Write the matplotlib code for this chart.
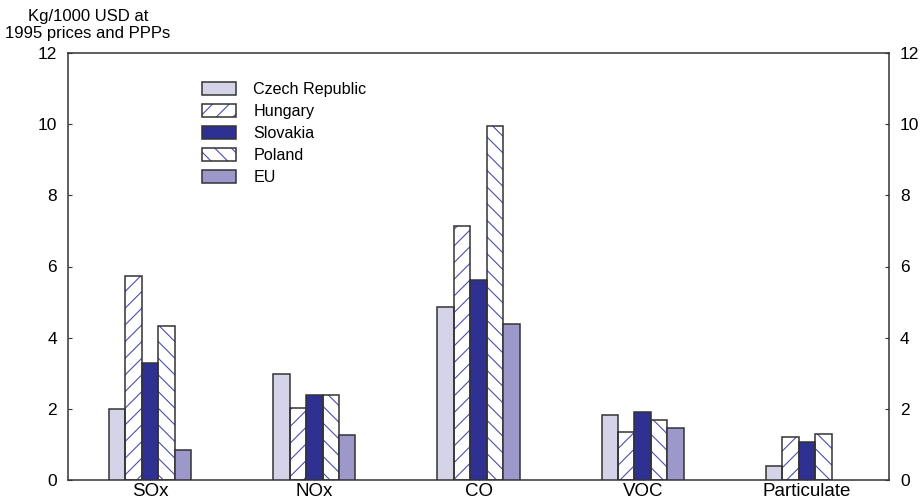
import numpy as np
import matplotlib.pyplot as plt
from matplotlib.patches import Patch

plt.rcParams['font.family'] = ['Liberation Sans', 'DejaVu Sans']
plt.rcParams['hatch.linewidth'] = 0.8

pollutants = ["SOx", "NOx", "CO", "VOC", "Particulate"]
countries = ["Czech Republic", "Hungary", "Slovakia", "Poland", "EU"]

czech = [2.00, 2.99, 4.87, 1.83, 0.39]
hungary = [5.72, 2.03, 7.15, 1.35, 1.21]
slovakia = [3.30, 2.39, 5.63, 1.92, 1.07]
poland = [4.34, 2.39, 9.94, 1.69, 1.30]
eu = [0.85, 1.27, 4.39, 1.46, np.nan]

series = [czech, hungary, slovakia, poland, eu]
fills = ["#d5d3e8", "white", "#2e3192", "white", "#9c98c9"]
hatches = [None, "//", None, "\\\\", None]
hatch_col = "#4a4fb0"
edge_col = "#333333"

fig = plt.figure(figsize=(9.24, 5.03), dpi=100)
ax = fig.add_axes([68 / 924, 23 / 503, 821 / 924, 427 / 503])

x = np.arange(len(pollutants))
w = 0.1
handles = []
for i, (vals, fc, h) in enumerate(zip(series, fills, hatches)):
    pos = x + (i - 2) * w
    if h:
        # hatch drawn underneath in blue, dark outline on top
        ax.bar(pos, vals, w, color=fc, hatch=h, edgecolor=hatch_col, linewidth=0)
        handles.append((Patch(facecolor=fc, hatch=h, edgecolor=hatch_col, linewidth=0),
                        Patch(facecolor="none", edgecolor=edge_col, linewidth=1.1)))
    else:
        handles.append(Patch(facecolor=fc, edgecolor=edge_col, linewidth=1.1))
    ax.bar(pos, vals, w, facecolor=fc if not h else "none", edgecolor=edge_col,
           linewidth=1.1, zorder=3)

ax.set_xlim(-0.5, 4.5)
ax.set_ylim(0, 12)
ax.set_yticks(range(0, 13, 2))
ax.set_xticks(x)
ax.set_xticklabels(pollutants)
ax.tick_params(axis="both", direction="in", length=3, width=0.8, labelsize=12.5,
               colors=edge_col, labelcolor="black")
ax.tick_params(axis="y", right=True, labelright=True, pad=8)
ax.tick_params(axis="x", pad=2, labelsize=13.5)
for s in ax.spines.values():
    s.set_linewidth(1.1)
    s.set_color(edge_col)

leg = ax.legend(handles, countries, loc="upper left", bbox_to_anchor=(0.155, 0.948),
                frameon=False, fontsize=11.6, handlelength=2.1, handleheight=0.9,
                labelspacing=0.42, handletextpad=1.1, borderaxespad=0)

fig.text(88 / 924, 1 - 17 / 503, "Kg/1000 USD at", ha="center", va="center", fontsize=12)
fig.text(88 / 924, 1 - 33 / 503, "1995 prices and PPPs", ha="center", va="center", fontsize=12)

fig.savefig("out.png", dpi=100)
